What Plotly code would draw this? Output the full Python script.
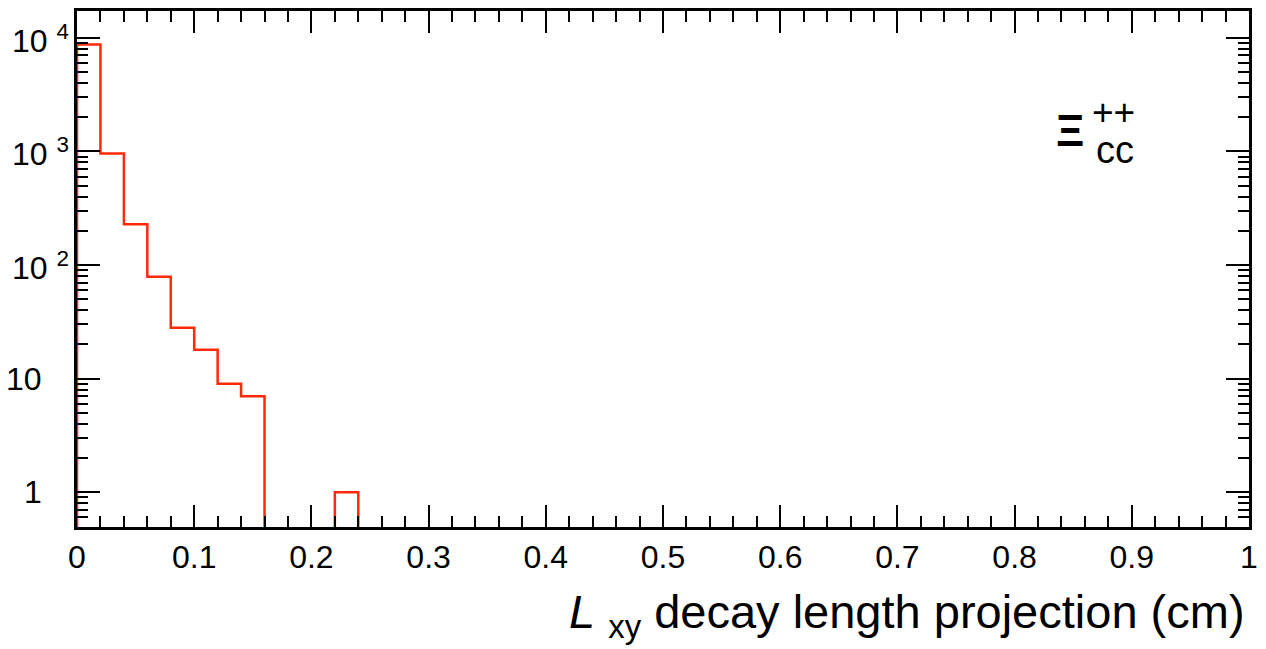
import math
import plotly.graph_objects as go

# ---------------- data ----------------
bin_width = 0.02
counts = [8750, 960, 228, 79, 28, 18, 9, 7, 0, 0, 0, 1] + [0] * 38
y_tick_vals = [1, 10, 100, 1000, 10000]
y_tick_base = ["1", "10", "10", "10", "10"]
y_tick_exp = ["", "", "2", "3", "4"]
x_tick_vals = [0, 0.1, 0.2, 0.3, 0.4, 0.5, 0.6, 0.7, 0.8, 0.9, 1.0]
x_tick_text = ["0", "0.1", "0.2", "0.3", "0.4", "0.5", "0.6", "0.7", "0.8", "0.9", "1"]

# ---------------- build histogram outline (ROOT style, zero bins skipped on log) ----------------
FLOOR = 1e-3
xs, ys = [], []
prev = 0
for i, c in enumerate(counts):
    lo = i * bin_width
    hi = lo + bin_width
    if c > 0:
        if prev == 0:
            xs.append(lo); ys.append(FLOOR)
        xs += [lo, hi]
        ys += [c, c]
    else:
        if prev > 0:
            xs.append(lo); ys.append(FLOOR)
            xs.append(None); ys.append(None)
    prev = c
if prev > 0:
    xs.append(len(counts) * bin_width); ys.append(FLOOR)

fig = go.Figure()
fig.add_trace(go.Scatter(x=xs, y=ys, mode="lines",
                         line=dict(color="#ff2a0a", width=2.5),
                         connectgaps=False, hoverinfo="skip", showlegend=False))

FONT = "Liberation Sans, Arial, Helvetica, sans-serif"

fig.update_layout(
    width=1266, height=649,
    margin=dict(l=77, r=9, t=8, b=122),
    paper_bgcolor="white", plot_bgcolor="white",
    font=dict(family=FONT, color="black"),
    showlegend=False,
)

fig.update_xaxes(
    range=[0, 1],
    tickmode="array", tickvals=x_tick_vals, ticktext=x_tick_text,
    ticks="inside", ticklen=22, tickwidth=2, tickcolor="black",
    minor=dict(dtick=0.02, ticks="inside", ticklen=11, tickwidth=2, tickcolor="black"),
    showline=True, linecolor="black", linewidth=2.5, mirror="ticks",
    showgrid=False, zeroline=False,
    tickfont=dict(size=32, family=FONT, color="black"),
    ticklabelstandoff=0,
)

fig.update_yaxes(
    type="log",
    range=[-0.306, 4.236],
    tickmode="array", tickvals=y_tick_vals, showticklabels=False,
    ticks="inside", ticklen=23, tickwidth=2, tickcolor="black",
    minor=dict(dtick="D1", ticks="inside", ticklen=11, tickwidth=2, tickcolor="black"),
    showline=True, linecolor="black", linewidth=2.5, mirror="ticks",
    showgrid=False, zeroline=False,
)

# y tick labels (ROOT-style "10^n")
for v, base, ex in zip(y_tick_vals, y_tick_base, y_tick_exp):
    if ex:
        fig.add_annotation(x=0, xref="paper", y=math.log10(v), yref="y",
                           text=f"{base} <sup>{ex}</sup>", showarrow=False,
                           xanchor="left", yanchor="middle", xshift=-67, yshift=-1,
                           font=dict(size=32, family=FONT, color="black"))
    else:
        fig.add_annotation(x=0, xref="paper", y=math.log10(v), yref="y",
                           text=base, showarrow=False,
                           xanchor="right", yanchor="middle", xshift=-33,
                           font=dict(size=32, family=FONT, color="black"))

# x axis title, right aligned
fig.add_annotation(x=1, xref="paper", y=0, yref="paper",
                   text="<i>L</i> <sub>xy</sub> decay length projection (cm)",
                   showarrow=False, xanchor="right", yanchor="top",
                   xshift=-2, yshift=-56,
                   font=dict(size=47, family=FONT, color="black"))

# Xi_cc^{++} label
fig.add_annotation(x=0.8475, xref="paper", y=0.768, yref="paper", text="<b>Ξ</b>",
                   showarrow=False, xanchor="center", yanchor="middle",
                   font=dict(size=44, family=FONT, color="black"))
fig.add_annotation(x=0.884, xref="paper", y=0.803, yref="paper", text="++",
                   showarrow=False, xanchor="center", yanchor="middle",
                   font=dict(size=37, family=FONT, color="black"))
fig.add_annotation(x=0.886, xref="paper", y=0.730, yref="paper", text="cc",
                   showarrow=False, xanchor="center", yanchor="middle",
                   font=dict(size=38, family=FONT, color="black"))

fig.write_html("out.html")
